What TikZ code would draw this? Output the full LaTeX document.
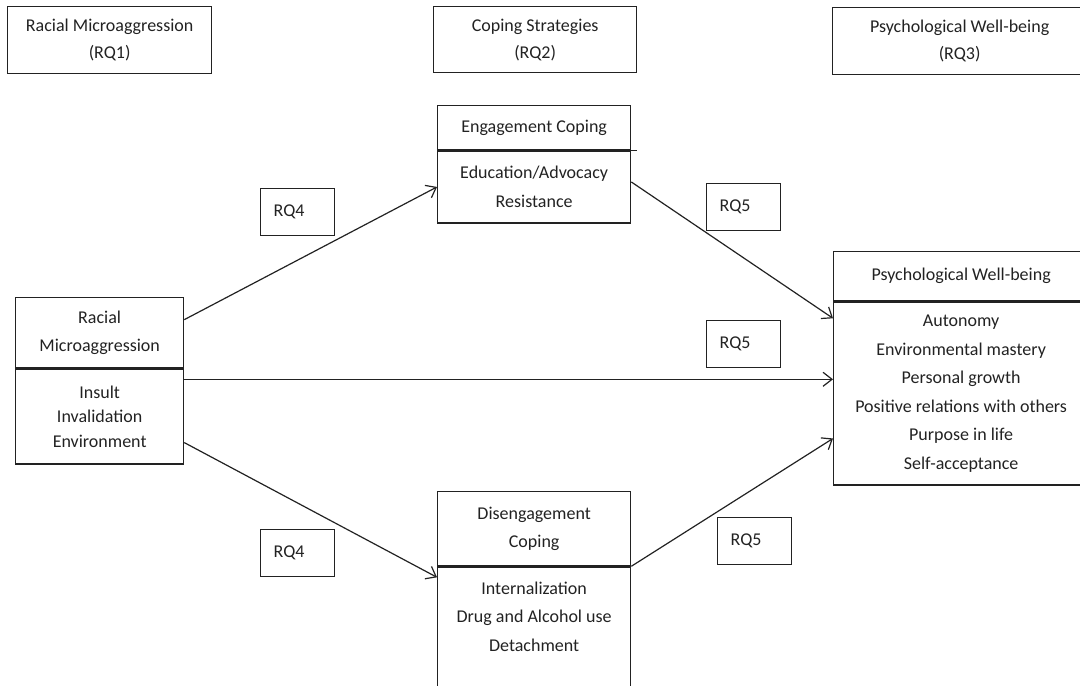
\documentclass[tikz,border=0pt]{standalone}
\usepackage{fontspec}
\setmainfont{Carlito}
\usetikzlibrary{positioning,arrows.meta}
\definecolor{ink}{HTML}{222222}

\tikzset{
  boxline/.style={draw=ink, line width=1.3pt},
  hdrbox/.style={boxline, align=center, anchor=north west, minimum height=66pt, font=\fontsize{18}{27}\selectfont},
  toppart/.style={boxline, align=center, anchor=north west},
  lowpart/.style={boxline, align=center, below=0pt of #1},
  rqbox/.style={boxline, text width=48pt, inner xsep=13pt, minimum height=47pt, align=left, anchor=north west},
  link/.style={draw=ink, line width=1.2pt, -{Straight Barb[length=9pt,width=14pt]}},
}

\begin{document}
\begin{tikzpicture}[x=1pt, y=-1pt, font=\fontsize{18}{28.5}\selectfont, text=ink]
    \useasboundingbox (0,0) rectangle (1080,686);
    % Header boxes
    \node[hdrbox, minimum width=204pt, minimum height=67pt] (rq1) at (7,6) {Racial Microaggression\\(RQ1)};
    \node[hdrbox, minimum width=203pt] (rq2) at (433,6) {Coping Strategies\\(RQ2)};
    \node[hdrbox, minimum width=254pt, minimum height=67pt] (rq3) at (832,7) {Psychological Well-being\\(RQ3)};

    % Racial microaggression
    \node[toppart, minimum width=168pt, minimum height=70pt] (racT) at (15,297) {Racial\\Microaggression};
    \node[lowpart=racT, minimum width=168pt, minimum height=95pt, font=\fontsize{18}{24.5}\selectfont] (racB) {Insult\\Invalidation\\Environment};

    % Engagement coping
    \node[toppart, minimum width=193pt, minimum height=44pt] (engT) at (437,105) {Engagement Coping};
    \node[lowpart=engT, minimum width=193pt, minimum height=72pt] (engB) {Education/Advocacy\\Resistance};
    \draw[boxline] (engT.south east) -- ++(6,0);

    % Disengagement coping
    \node[toppart, minimum width=193pt, minimum height=74pt] (disT) at (437,491) {Disengagement\\Coping};
    \node[lowpart=disT, minimum width=193pt, minimum height=128pt] (disB) {Internalization\\Drug and Alcohol use\\Detachment\\\mbox{}};

    % Psychological well-being
    \node[toppart, minimum width=255pt, minimum height=49pt] (pwbT) at (833,251) {Psychological Well-being};
    \node[lowpart=pwbT, minimum width=255pt, minimum height=183pt] (pwbB) {Autonomy\\Environmental mastery\\Personal growth\\Positive relations with others\\Purpose in life\\Self-acceptance};

    % RQ labels
    \node[rqbox] (rq4a) at (260,188) {RQ4};
    \node[rqbox] (rq4b) at (260,529) {RQ4};
    \node[rqbox] (rq5a) at (706,183) {RQ5};
    \node[rqbox] (rq5b) at (706,320) {RQ5};
    \node[rqbox] (rq5c) at (717,517) {RQ5};

    % Paths
    \coordinate (racMid) at ([yshift=-11pt]racB.north east);
    \draw[link] ([yshift=13pt]racT.east) -- (engB.west);
    \draw[link] (racMid) -- (racMid -| pwbB.west);
    \draw[link] ([yshift=22pt]racB.south east) -- ([yshift=-11pt]disB.north west);
    \draw[link] ([yshift=5pt]engB.east) -- ([yshift=-17pt]pwbB.north west);
    \draw[link] (disT.south east) -- ([yshift=-45pt]pwbB.west);
\end{tikzpicture}
\end{document}
